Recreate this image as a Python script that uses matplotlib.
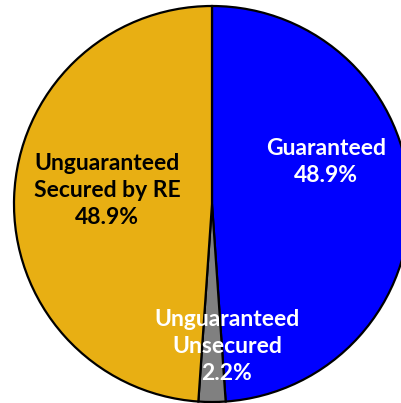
import matplotlib.pyplot as plt

# slices, clockwise from 12 o'clock
names = ['Guaranteed', 'Unguaranteed\nUnsecured', 'Unguaranteed\nSecured by RE']
shares = [48.9, 2.2, 48.9]
colors = ['#0000FF', '#808080', '#E8AF13']
text_colors = ['white', 'white', 'black']
# label anchor points (pie radius = 1)
label_xy = [(0.575, 0.21), (0.075, -0.72), (-0.53, 0.07)]

fig = plt.figure(figsize=(4.02, 4.03), dpi=100)
ax = fig.add_axes([0, 0, 1, 1])

ax.pie(shares, colors=colors, startangle=90, counterclock=False,
       radius=1.0, wedgeprops=dict(edgecolor='black', linewidth=1.6))

for name, val, (x, y), c in zip(names, shares, label_xy, text_colors):
    ax.text(x, y, f'{name}\n{val:.1f}%', ha='center', va='center',
            color=c, fontsize=16.5, fontweight='bold', family='Lato',
            linespacing=1.36)

ax.set_xlim(-1.0707, 0.9596)
ax.set_ylim(-1.005, 1.0303)
ax.set_aspect('equal')
ax.axis('off')

fig.savefig('out.png', dpi=100)
